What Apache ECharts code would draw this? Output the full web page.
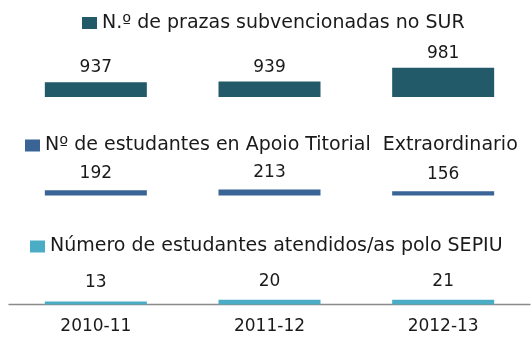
<!DOCTYPE html>
<html>
<head>
<meta charset="utf-8">
<script src="https://cdn.jsdelivr.net/npm/echarts@6/dist/echarts.min.js"></script>
<style>
  html, body { margin: 0; padding: 0; background: #ffffff; }
  #chart { width: 531px; height: 338px; }
</style>
</head>
<body>
<div id="chart"></div>
<script>
// Academic years shown along the shared bottom axis
var categories = ['2010-11', '2011-12', '2012-13'];

// One series per panel
var seriesNames = [
  'N.º de prazas subvencionadas no SUR',
  'Nº de estudantes en Apoio Titorial  Extraordinario',
  'Número de estudantes atendidos/as polo SEPIU'
];
var prazasSUR = [937, 939, 981];
var apoioTitorial = [192, 213, 156];
var sepiu = [13, 20, 21];

var FONT = 'DejaVu Sans';
var TEXT = '#1a1a1a';
var colors = ['#225a69', '#396495', '#4bacc6'];

// Panel layout: each panel gets its own grid and value scale
var panels = [
  { data: prazasSUR,     top: 40,  height: 57,   min: 892, max: 1066, labelGap: 6,  legendLeft: 82, legendTop: 12.5 },
  { data: apoioTitorial, top: 155, height: 40.5, min: 20,  max: 1316, labelGap: 8,  legendLeft: 25, legendTop: 135 },
  { data: sepiu,         top: 264, height: 40.5, min: 0,   max: 175,  labelGap: 10, legendLeft: 30, legendTop: 236 }
];

var grids = [], xAxes = [], yAxes = [], series = [], legends = [];
panels.forEach(function (p, i) {
  var last = i === panels.length - 1;
  grids.push({ left: 9, right: 1, top: p.top, height: p.height });
  xAxes.push({
    type: 'category',
    gridIndex: i,
    data: categories,
    axisLine: { show: last, lineStyle: { color: '#8a8a8a', width: 1.3 } },
    axisTick: { show: false },
    axisLabel: { show: last, color: TEXT, fontFamily: FONT, fontSize: 17, margin: 14 }
  });
  yAxes.push({
    type: 'value',
    gridIndex: i,
    min: p.min,
    max: p.max,
    show: false,
    splitLine: { show: false }
  });
  series.push({
    name: seriesNames[i],
    type: 'bar',
    xAxisIndex: i,
    yAxisIndex: i,
    data: p.data,
    barWidth: 102,
    itemStyle: { color: colors[i] },
    label: {
      show: true,
      position: 'top',
      distance: p.labelGap,
      color: TEXT,
      fontFamily: FONT,
      fontSize: 17
    },
    animation: false
  });
  legends.push({
    data: [seriesNames[i]],
    left: p.legendLeft,
    top: p.legendTop,
    padding: 0,
    icon: 'rect',
    itemWidth: 15,
    itemHeight: 12,
    itemGap: 0,
    selectedMode: false,
    textStyle: { color: TEXT, fontFamily: FONT, fontSize: 19, lineHeight: 21 }
  });
});

var chart = echarts.init(document.getElementById('chart'));
chart.setOption({
  animation: false,
  backgroundColor: '#ffffff',
  grid: grids,
  xAxis: xAxes,
  yAxis: yAxes,
  legend: legends,
  series: series
});
</script>
</body>
</html>
